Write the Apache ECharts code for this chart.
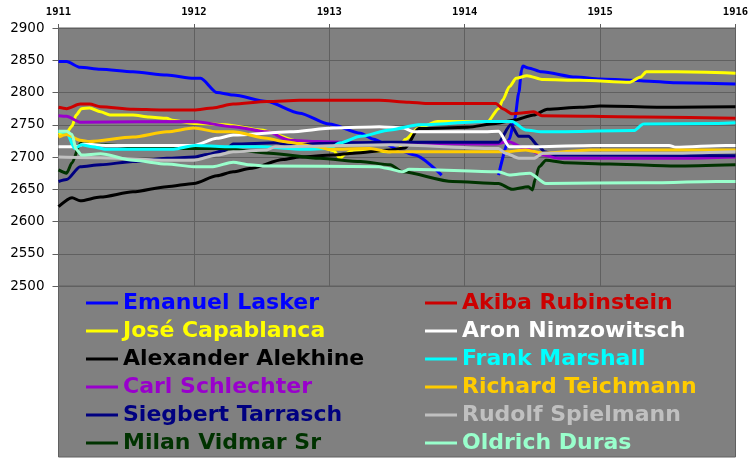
<!DOCTYPE html>
<html><head><meta charset="utf-8">
<script src="https://cdn.jsdelivr.net/npm/echarts@6/dist/echarts.min.js"></script>
<style>html,body{margin:0;padding:0;background:#fff}#c{width:756px;height:464px}</style>
</head><body><div id="c"></div>
<script>
const yearTicks = [1911, 1912, 1913, 1914, 1915, 1916];
const ratingTicks = [2500, 2550, 2600, 2650, 2700, 2750, 2800, 2850, 2900];

const lasker = [[1911.00,2848],[1911.06,2848],[1911.16,2839],[1911.31,2836],[1911.55,2832],[1911.80,2827],[1912.00,2822],[1912.05,2822],[1912.17,2800],[1912.29,2796],[1912.54,2786],[1912.78,2768],[1913.00,2751],[1913.23,2737],[1913.32,2728],[1913.41,2721],[1913.51,2711],[1913.63,2703],[1913.83,2672],[1914.05,null],[1914.25,2672],[1914.33,2728],[1914.37,2760],[1914.40,2800],[1914.42,2835],[1914.43,2841],[1914.47,2838],[1914.57,2832],[1914.82,2824],[1915.00,2821],[1915.22,2819],[1915.32,2818],[1915.56,2815],[1916.00,2813]];
const capablanca = [[1911.00,2735],[1911.06,2738],[1911.10,2748],[1911.13,2765],[1911.17,2775],[1911.23,2776],[1911.31,2770],[1911.38,2765],[1911.55,2765],[1911.67,2762],[1911.80,2760],[1911.84,2757],[1912.00,2752],[1912.23,2750],[1912.49,2742],[1912.78,2724],[1912.93,2716],[1913.03,2710],[1913.08,2698],[1913.12,2705],[1913.18,2711],[1913.45,2708],[1913.51,2712],[1913.56,2727],[1913.66,2745],[1913.80,2755],[1914.17,2755],[1914.25,2775],[1914.28,2788],[1914.33,2809],[1914.38,2822],[1914.46,2826],[1914.58,2820],[1914.85,2819],[1915.22,2816],[1915.30,2824],[1915.34,2832],[1915.56,2832],[1916.00,2830]];
const alekhine = [[1911.00,2623],[1911.10,2637],[1911.16,2632],[1911.31,2638],[1911.55,2646],[1911.80,2654],[1912.00,2659],[1912.17,2671],[1912.29,2677],[1912.41,2682],[1912.66,2696],[1912.78,2700],[1913.03,2703],[1913.18,2706],[1913.45,2711],[1913.56,2714],[1913.66,2744],[1914.02,2746],[1914.23,2752],[1914.36,2757],[1914.51,2765],[1914.61,2774],[1914.85,2777],[1915.00,2779],[1915.56,2777],[1916.00,2778]];
const schlechter = [[1911.00,2764],[1911.06,2763],[1911.16,2754],[1912.00,2755],[1912.29,2747],[1912.54,2739],[1912.71,2726],[1912.91,2724],[1913.37,2721],[1914.23,2720],[1914.32,2724],[1914.45,2713],[1914.58,2703],[1914.70,2698],[1915.61,2698],[1916.00,2700]];
const tarrasch = [[1911.00,2662],[1911.06,2665],[1911.16,2685],[1911.31,2688],[1911.55,2693],[1911.80,2698],[1912.00,2700],[1912.10,2704],[1912.23,2710],[1912.29,2720],[1912.61,2722],[1912.71,2718],[1912.93,2721],[1913.41,2723],[1914.25,2723],[1914.34,2750],[1914.40,2732],[1914.47,2732],[1914.55,2716],[1914.59,2708],[1914.67,2703],[1916.00,2702]];
const vidmar = [[1911.00,2680],[1911.06,2675],[1911.10,2691],[1911.16,2721],[1911.19,2724],[1911.34,2719],[1911.71,2713],[1912.21,2713],[1912.56,2706],[1912.93,2698],[1913.23,2693],[1913.45,2688],[1913.54,2677],[1913.91,2662],[1914.25,2659],[1914.35,2650],[1914.47,2654],[1914.50,2649],[1914.52,2665],[1914.55,2685],[1914.60,2695],[1914.75,2691],[1915.07,2689],[1915.56,2686],[1916.00,2688]];
const rubinstein = [[1911.00,2777],[1911.06,2775],[1911.16,2782],[1911.23,2782],[1911.31,2778],[1911.55,2774],[1911.75,2773],[1912.00,2773],[1912.14,2776],[1912.29,2782],[1912.54,2786],[1912.78,2788],[1913.00,2788],[1913.37,2788],[1913.59,2785],[1913.71,2783],[1914.23,2783],[1914.28,2775],[1914.35,2767],[1914.40,2768],[1914.51,2770],[1914.57,2764],[1915.32,2762],[1916.00,2760]];
const nimzowitsch = [[1911.00,2716],[1911.13,2716],[1911.19,2720],[1911.35,2718],[1912.00,2718],[1912.17,2729],[1912.29,2734],[1912.71,2739],[1913.03,2745],[1913.37,2747],[1913.55,2745],[1913.62,2739],[1914.15,2739],[1914.25,2740],[1914.33,2716],[1914.55,2716],[1914.95,2718],[1915.51,2718],[1915.56,2715],[1915.93,2718],[1916.00,2718]];
const marshall = [[1911.00,2740],[1911.06,2738],[1911.12,2713],[1911.17,2719],[1911.25,2716],[1911.35,2712],[1911.85,2712],[1912.01,2718],[1912.23,2716],[1912.50,2716],[1912.80,2712],[1913.00,2713],[1913.08,2722],[1913.23,2732],[1913.45,2742],[1913.66,2750],[1914.15,2755],[1914.35,2755],[1914.45,2742],[1914.57,2739],[1915.25,2741],[1915.32,2751],[1915.87,2752],[1916.00,2753]];
const teichmann = [[1911.00,2731],[1911.06,2735],[1911.16,2726],[1911.23,2724],[1911.55,2731],[1911.80,2739],[1912.00,2745],[1912.17,2739],[1912.29,2739],[1912.54,2729],[1912.66,2724],[1912.91,2716],[1913.00,2712],[1913.30,2713],[1913.45,2708],[1914.30,2708],[1914.45,2711],[1914.58,2706],[1914.93,2711],[1916.00,2711]];
const spielmann = [[1911.00,2700],[1911.31,2699],[1911.80,2695],[1912.00,2695],[1912.17,2703],[1912.29,2708],[1912.54,2711],[1912.60,2716],[1913.45,2719],[1914.25,2713],[1914.30,2706],[1914.40,2698],[1914.51,2698],[1914.58,2706],[1915.61,2706],[1916.00,2708]];
const duras = [[1911.00,2740],[1911.06,2740],[1911.10,2735],[1911.13,2712],[1911.17,2703],[1911.31,2705],[1911.55,2695],[1911.80,2689],[1912.00,2685],[1912.14,2685],[1912.29,2692],[1912.41,2688],[1912.54,2686],[1913.37,2685],[1913.41,2683],[1913.54,2677],[1913.59,2681],[1914.25,2677],[1914.33,2672],[1914.48,2675],[1914.60,2659],[1915.32,2660],[1915.86,2662],[1916.00,2662]];

const leftNames = ['Emanuel Lasker', 'José Capablanca', 'Alexander Alekhine', 'Carl Schlechter', 'Siegbert Tarrasch', 'Milan Vidmar Sr'];
const rightNames = ['Akiba Rubinstein', 'Aron Nimzowitsch', 'Frank Marshall', 'Richard Teichmann', 'Rudolf Spielmann', 'Oldrich Duras'];
const seriesData = [lasker, capablanca, alekhine, schlechter, tarrasch, vidmar, rubinstein, nimzowitsch, marshall, teichmann, spielmann, duras];
const colors = ['#0000FF', '#FFFF00', '#000000', '#9900CC', '#000080', '#003300', '#CC0000', '#FFFFFF', '#00FFFF', '#FFCC00', '#C0C0C0', '#99FFCC'];

const names = leftNames.concat(rightNames);
const chart = echarts.init(document.getElementById('c'));
const legendBase = {
  orient: 'vertical', top: 292, itemWidth: 32, itemHeight: 3, icon: 'rect', itemGap: 6,
  selectedMode: false, padding: 0,
  textStyle: { fontFamily: 'DejaVu Sans', fontWeight: 'bold', fontSize: 22, lineHeight: 22 }
};
const mkLegendData = (arr, off) => arr.map((n, i) => ({ name: n, textStyle: { color: colors[off + i] } }));

chart.setOption({
  animation: false,
  backgroundColor: '#ffffff',
  graphic: [{ type: 'rect', z: -10, shape: { x: 58.5, y: 286, width: 677, height: 171 },
    style: { fill: '#808080', stroke: '#606060', lineWidth: 1 } }],
  grid: { left: 58.5, top: 28, width: 677, height: 258, show: true, backgroundColor: '#808080', borderColor: '#606060', borderWidth: 1 },
  legend: [
    Object.assign({}, legendBase, { left: 86, data: mkLegendData(leftNames, 0) }),
    Object.assign({}, legendBase, { left: 425, data: mkLegendData(rightNames, 6) })
  ],
  xAxis: {
    type: 'value', position: 'top', min: yearTicks[0], max: yearTicks[yearTicks.length - 1], interval: 1,
    axisLine: { show: false },
    axisTick: { show: true, length: 4, lineStyle: { color: '#606060' } },
    axisLabel: { margin: 10, fontFamily: 'DejaVu Sans Mono', fontWeight: 'bold', fontSize: 10.5, color: '#000', formatter: v => String(v) },
    splitLine: { show: true, lineStyle: { color: '#606060', width: 1 } }
  },
  yAxis: {
    type: 'value', min: ratingTicks[0], max: ratingTicks[ratingTicks.length - 1], interval: 50,
    axisLine: { show: false },
    axisTick: { show: true, length: 6, lineStyle: { color: '#606060' } },
    axisLabel: { margin: 14, fontFamily: 'DejaVu Sans', fontSize: 13.5, color: '#000', formatter: v => String(v) },
    splitLine: { show: true, lineStyle: { color: '#606060', width: 1 } }
  },
  series: seriesData.map((d, i) => ({
    name: names[i], type: 'line', data: d, showSymbol: false, symbol: 'none',
    smooth: 0.25, smoothMonotone: 'x', connectNulls: false,
    itemStyle: { color: colors[i] },
    lineStyle: { color: colors[i], width: 3 }
  }))
});
</script></body></html>
